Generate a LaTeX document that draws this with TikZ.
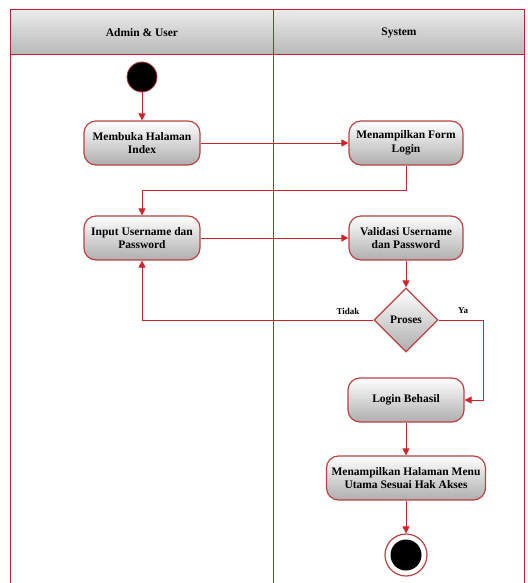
\documentclass[tikz,border=0pt]{standalone}
\usepackage{fontspec}
\setmainfont{Liberation Serif}
\usetikzlibrary{shapes.geometric,arrows.meta}
\definecolor{lanered}{RGB}{205,30,40}
\definecolor{nodeborder}{RGB}{190,65,65}
\definecolor{flowred}{RGB}{210,35,40}
\tikzset{
  act/.style={rectangle, rounded corners=12pt, draw=nodeborder, line width=1.2pt,
    top color=white, bottom color=black!32, align=center, inner sep=2pt,
    minimum height=44pt, font=\fontsize{11.5}{13.5}\selectfont\bfseries},
  dec/.style={diamond, aspect=1, draw=nodeborder, line width=1.2pt, inner sep=0pt,
    top color=white, bottom color=black!32, minimum width=64pt, minimum height=64pt,
    font=\fontsize{11.5}{13.5}\selectfont\bfseries},
  flow/.style={draw=flowred, line width=0.9pt, -{Triangle[length=7pt,width=7pt]}},
  lbl/.style={font=\fontsize{9}{10}\selectfont\bfseries, inner sep=1pt},
  lane/.style={draw=lanered, line width=1pt}
}
\begin{document}
\begin{tikzpicture}[x=1pt,y=-1pt]
\useasboundingbox (0,0) rectangle (527,583);
\fill[white] (0,0) rectangle (527,583);
% header
\shade[top color=black!8, bottom color=black!28] (10,10) rectangle (524,55);
\draw[lane] (10,583) -- (10,10) -- (524,10) -- (524,583);
\draw[lane] (10,55) -- (524,55);
\draw[lane] (273,10) -- (273,583);
\node[font=\fontsize{11.5}{13.5}\selectfont\bfseries] (h1) at (142,33) {Admin \& User};
\node[font=\fontsize{11.5}{13.5}\selectfont\bfseries] (h2) at (399,33) {System};
% nodes
\node[circle, fill=black, draw=nodeborder, line width=0.8pt, minimum size=30pt, inner sep=0pt] (s) at (142,77) {};
\node[act, minimum width=116pt] (n1) at (142,143) {Membuka Halaman\\Index};
\node[act, minimum width=114pt] (n2) at (406,143) {Menampilkan Form\\Login};
\node[act, minimum width=116pt] (n3) at (142,238) {Input Username dan\\Password};
\node[act, minimum width=114pt] (n4) at (406,238) {Validasi Username\\dan Password};
\node[dec] (d) at (406,320) {Proses};
\node[act, minimum width=116pt] (n5) at (406,400) {Login Behasil};
\node[act, minimum width=159pt] (n6) at (406,478) {Menampilkan Halaman Menu\\Utama Sesuai Hak Akses};
\node[circle, fill=white, draw=nodeborder, line width=1.2pt, minimum size=42pt, inner sep=0pt] (e) at (406,555) {};
\node[circle, fill=black, minimum size=31pt, inner sep=0pt] (ei) at (e.center) {};
% flows
\draw[flow] (s) -- (n1);
\draw[flow] (n1) -- (n2);
\draw[flow] (n2.south) -- ++(0,25) -| (n3.north);
\draw[flow] (n3) -- (n4);
\draw[flow] (n4) -- (d);
\draw[flow] (d.west) -| (n3.south);
\draw[flow] (d.east) -- ++(45,0) |- (n5.east);
\draw[flow] (n5) -- (n6);
\draw[flow] (n6) -- (e);
\node[lbl] (t1) at (348,311) {Tidak};
\node[lbl] (t2) at (463,311) {Ya};
\end{tikzpicture}
\end{document}
